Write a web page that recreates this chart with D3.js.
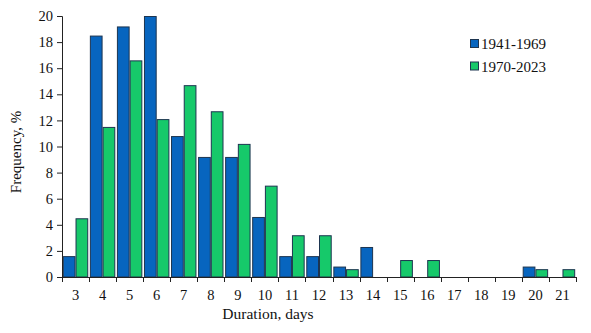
<!DOCTYPE html>
<html><head><meta charset="utf-8">
<script src="https://cdn.jsdelivr.net/npm/d3@7"></script>
<style>body{margin:0;background:#fff}svg{display:block}text{font-family:"Liberation Serif","Times New Roman",serif;fill:#111}</style>
</head><body><svg id="c" width="591" height="333"></svg>
<script>
const categories = [3,4,5,6,7,8,9,10,11,12,13,14,15,16,17,18,19,20,21];
const series1Name = "1941-1969";
const series2Name = "1970-2023";
const series1 = [1.6,18.5,19.2,20.0,10.8,9.2,9.2,4.6,1.6,1.6,0.8,2.3,0,0,0,0,0,0.8,0];
const series2 = [4.5,11.5,16.6,12.1,14.7,12.7,10.2,7.0,3.2,3.2,0.6,0,1.3,1.3,0,0,0,0.6,0.6];
const yTicks = [0,2,4,6,8,10,12,14,16,18,20];

const svg = d3.select("#c");
const m = {l:62, r:576, t:16, b:277};
const colors = ["#0765BF","#16C96A"];
const x = d3.scaleBand().domain(categories).range([m.l, m.r]).paddingInner(0.06).paddingOuter(0.03);
const xs = d3.scaleBand().domain([0,1]).range([0, x.bandwidth()]).padding(0);
const y = d3.scaleLinear().domain([0,20]).range([m.b, m.t]);

const data = categories.map((c,i)=>({c, v:[series1[i], series2[i]]}));
const g = svg.append("g");
data.forEach(d=>{
  d.v.forEach((v,k)=>{
    if(v<=0) return;
    g.append("rect")
      .attr("x", x(d.c)+xs(k)+0.5)
      .attr("y", y(v)+0.5)
      .attr("width", xs.bandwidth()-1)
      .attr("height", y(0)-y(v)-0.5)
      .attr("fill", colors[k])
      .attr("stroke", "#1d3550")
      .attr("stroke-width", 1);
  });
});

// y axis
const ya = svg.append("g").attr("transform",`translate(${m.l},0)`)
  .call(d3.axisLeft(y).tickValues(yTicks).tickSize(5).tickPadding(4));
ya.select(".domain").attr("stroke","#222");
ya.selectAll(".tick line").attr("stroke","#222");
ya.selectAll("text").style("font-size","14.5px").style("font-family","Liberation Serif").attr("fill","#111");

// x axis
const step = x.step();
const bounds = categories.map(c=>x(c)-(step-x.bandwidth())/2);
bounds.push(m.r);
const xa = svg.append("g").attr("transform",`translate(0,${m.b})`);
xa.append("line").attr("x1",m.l).attr("x2",m.r).attr("y1",0.5).attr("y2",0.5).attr("stroke","#222");
xa.selectAll("line.t").data(bounds).enter().append("line").attr("class","t")
  .attr("x1",d=>Math.round(d)+0.5).attr("x2",d=>Math.round(d)+0.5).attr("y1",0).attr("y2",5).attr("stroke","#222");
xa.selectAll("text").data(categories).enter().append("text")
  .attr("x",d=>x(d)+x.bandwidth()/2).attr("y",23).attr("text-anchor","middle")
  .style("font-size","14.5px").text(d=>d);

svg.append("text").attr("x",268).attr("y",319).attr("text-anchor","middle").style("font-size","15.5px").text("Duration, days");
svg.append("text").attr("transform","translate(21,152) rotate(-90)").attr("text-anchor","middle").style("font-size","15px").text("Frequency, %");

// legend
const lg = svg.append("g").attr("transform","translate(470,39)");
[series1Name, series2Name].forEach((n,i)=>{
  lg.append("rect").attr("x",0.5).attr("y",i*22.5+0.5).attr("width",8).attr("height",8).attr("fill",colors[i]).attr("stroke","#1d3550");
  lg.append("text").attr("x",11).attr("y",i*22.5+10).style("font-size","15px").text(n);
});
</script></body></html>
